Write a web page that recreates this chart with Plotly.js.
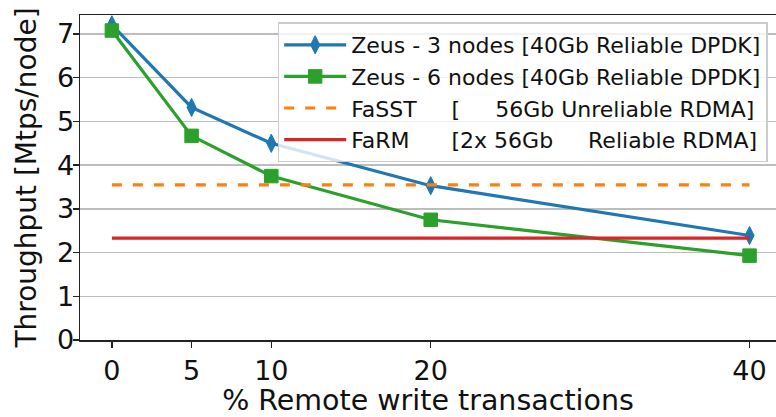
<!DOCTYPE html>
<html>
<head>
<meta charset="utf-8">
<script src="https://cdn.plot.ly/plotly-3.0.1.min.js"></script>
<style>
  html, body { margin: 0; padding: 0; background: #fff; }
  #chart { width: 776px; height: 417px; }
</style>
</head>
<body>
<div id="chart"></div>
<script>
// % remote write transactions
const remotePct = [0, 5, 10, 20, 40];
// throughput in Mtps/node
const zeus3 = [7.21, 5.32, 4.50, 3.53, 2.39];
const zeus6 = [7.08, 4.67, 3.75, 2.75, 1.93];
// baselines, flat lines over the whole range
const baseX = [0, 40];
const fasst = [3.55, 3.55];
const farm = [2.33, 2.33];

const names = [
  'Zeus - 3 nodes [40Gb Reliable DPDK]',
  'Zeus - 6 nodes [40Gb Reliable DPDK]',
  'FaSST     [     56Gb Unreliable RDMA]',
  'FaRM      [2x 56Gb     Reliable RDMA]'
];
const xTicks = [0, 5, 10, 20, 40];
const yTicks = [0, 1, 2, 3, 4, 5, 6, 7];

const font = 'DejaVu Sans, sans-serif';

const traces = [
  {
    x: remotePct, y: zeus3, name: names[0], mode: 'lines+markers', legendgroup: 'a',
    line: {color: '#1f77b4', width: 3.2},
    marker: {symbol: 'diamond-tall', size: 13, color: '#1f77b4', line: {color: '#1f77b4', width: 1}}
  },
  {
    x: remotePct, y: zeus6, name: names[1], mode: 'lines+markers', legendgroup: 'b',
    line: {color: '#2ca02c', width: 3.2},
    marker: {symbol: 'square', size: 13.5, color: '#2ca02c', line: {color: '#2ca02c', width: 1}}
  },
  {
    x: baseX, y: fasst, name: names[2], mode: 'lines', legendgroup: 'c',
    line: {color: '#ff7f0e', width: 3.2, dash: '10px,11px'}
  },
  {
    x: baseX, y: farm, name: names[3], mode: 'lines', legendgroup: 'd',
    line: {color: '#d62728', width: 3.2}
  }
];

const layout = {
  width: 776,
  height: 417,
  margin: {l: 80, r: 0, t: 15, b: 77},
  paper_bgcolor: '#fff',
  plot_bgcolor: '#fff',
  font: {family: font, size: 27, color: '#111'},
  showlegend: true,
  legend: {
    x: 0.284, y: 0.977, xanchor: 'left', yanchor: 'top',
    bgcolor: 'rgba(255,255,255,0.8)',
    bordercolor: '#cccccc', borderwidth: 1.5,
    font: {family: font, size: 22, color: '#111'},
    itemwidth: 62,
    traceorder: 'grouped',
    tracegroupgap: 0
  },
  xaxis: {
    range: [-2, 41.66],
    tickvals: xTicks,
    ticks: 'outside', ticklen: 6, tickwidth: 1.5, tickcolor: '#222',
    showline: true, mirror: true, linecolor: '#222', linewidth: 1.5,
    showgrid: false, zeroline: false,
    tickfont: {size: 27},
    title: {text: '% Remote write transactions', font: {size: 28.5}, standoff: 8}
  },
  yaxis: {
    range: [0, 7.435],
    tickvals: yTicks,
    ticks: 'outside', ticklen: 6, tickwidth: 1.5, tickcolor: '#222',
    ticklabelstandoff: -7,
    showline: true, mirror: false, linecolor: '#222', linewidth: 1.5,
    showgrid: true, gridcolor: '#bdbdbd', gridwidth: 1.5,
    zeroline: false,
    tickfont: {size: 27},
    title: {text: 'Throughput [Mtps/node]', font: {size: 28}, standoff: 12}
  },
  hovermode: false
};

Plotly.newPlot('chart', traces, layout, {displayModeBar: false, staticPlot: true});
</script>
</body>
</html>
